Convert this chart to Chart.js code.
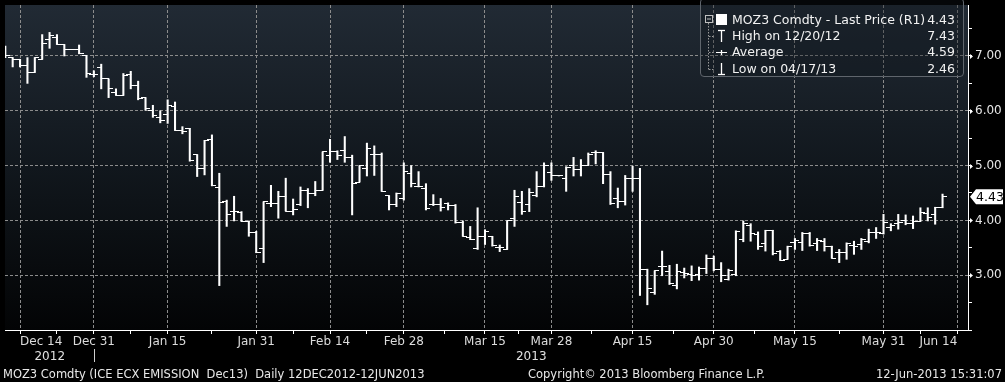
<!DOCTYPE html>
<html><head><meta charset="utf-8">
<script src="https://cdn.jsdelivr.net/npm/chart.js@4.4.1/dist/chart.umd.min.js"></script>
<style>
body{margin:0;background:#000;}
#wrap{position:relative;width:1005px;height:382px;overflow:hidden;background:#000;font-family:'DejaVu Sans',sans-serif;}
#c{position:absolute;left:0;top:0;}
.ft{position:absolute;top:367px;color:#e8e8e8;font-size:11.5px;white-space:pre;line-height:14px;}
#legend{position:absolute;left:700px;top:-2px;width:262px;height:77px;border:1px solid #5f656c;border-radius:4px;background:rgba(14,19,25,0.35);}
.lg{position:absolute;color:#f2f2f2;font-size:12.5px;line-height:14px;white-space:pre;}
.lv{position:absolute;color:#f2f2f2;font-size:12.5px;line-height:14px;right:50px;text-align:right;}
#icons{position:absolute;left:702px;top:0;}
</style></head>
<body>
<div id="wrap">
<canvas id="c" width="1005" height="382"></canvas>
<div id="legend"></div>
<svg id="icons" width="30" height="80">
 <rect x="3.5" y="15.5" width="7" height="7" fill="none" stroke="#bfbfbf" stroke-width="1"/>
 <line x1="5" y1="19" x2="9" y2="19" stroke="#bfbfbf" stroke-width="1"/>
 <rect x="14" y="14" width="11" height="11" fill="#ffffff"/>
 <line x1="6.5" y1="23" x2="6.5" y2="70" stroke="#9a9a9a" stroke-width="1" stroke-dasharray="1.5,1.5"/>
 <line x1="7" y1="36.5" x2="12" y2="36.5" stroke="#9a9a9a" stroke-width="1" stroke-dasharray="1.5,1.5"/>
 <line x1="7" y1="52.5" x2="12" y2="52.5" stroke="#9a9a9a" stroke-width="1" stroke-dasharray="1.5,1.5"/>
 <line x1="7" y1="69.5" x2="12" y2="69.5" stroke="#9a9a9a" stroke-width="1" stroke-dasharray="1.5,1.5"/>
 <line x1="19.5" y1="30" x2="19.5" y2="42" stroke="#fff" stroke-width="1.3"/>
 <line x1="16" y1="30.5" x2="23" y2="30.5" stroke="#fff" stroke-width="1.3"/>
 <line x1="14" y1="52.5" x2="25" y2="52.5" stroke="#fff" stroke-width="1"/>
 <line x1="19.5" y1="50" x2="19.5" y2="55" stroke="#fff" stroke-width="1.3"/>
 <line x1="19.5" y1="63" x2="19.5" y2="75" stroke="#fff" stroke-width="1.3"/>
 <line x1="16" y1="74.5" x2="23" y2="74.5" stroke="#fff" stroke-width="1.3"/>
</svg>
<div class="lg" style="left:732px;top:13px">MOZ3 Comdty - Last Price (R1)</div>
<div class="lv" style="top:13px">4.43</div>
<div class="lg" style="left:732px;top:29px">High on 12/20/12</div>
<div class="lv" style="top:29px">7.43</div>
<div class="lg" style="left:732px;top:45px">Average</div>
<div class="lv" style="top:45px">4.59</div>
<div class="lg" style="left:732px;top:62px">Low on 04/17/13</div>
<div class="lv" style="top:62px">2.46</div>
<div class="ft" style="left:3px">MOZ3 Comdty (ICE ECX EMISSION  Dec13)  Daily 12DEC2012-12JUN2013</div>
<div class="ft" style="left:528px">Copyright© 2013 Bloomberg Finance L.P.</div>
<div class="ft" style="right:3px">12-Jun-2013 15:31:07</div>
</div>
<script>
// ---- data (one entry per trading slot, 12 Dec 2012 .. 12 Jun 2013) ----
const openP  = [7.09,6.97,6.94,6.82,6.70,6.94,7.30,7.34,7.21,7.12,7.12,7.00,6.67,6.79,6.58,6.34,6.28,6.67,6.46,6.24,6.01,5.88,5.94,6.07,5.64,5.68,5.20,4.95,5.47,4.60,4.34,4.17,4.14,3.98,3.78,3.49,4.31,4.31,4.43,4.17,4.29,4.55,4.49,4.55,5.19,5.25,5.27,5.15,4.70,4.95,5.21,5.21,4.45,4.29,4.40,4.85,4.61,4.59,4.29,4.29,4.31,4.28,3.97,3.68,3.48,3.71,3.71,3.50,3.47,4.03,4.33,4.29,4.46,4.61,4.87,4.81,4.76,5.01,4.93,5.01,5.23,5.23,4.83,4.40,4.34,4.76,4.77,3.11,2.69,3.15,3.06,2.82,3.05,3.01,3.01,3.13,3.31,3.11,2.93,3.01,3.65,3.90,3.75,3.58,3.81,3.44,3.29,3.59,3.59,3.76,3.58,3.62,3.52,3.41,3.41,3.55,3.56,3.61,3.78,3.76,3.87,3.94,3.99,3.94,3.98,4.12,4.11,4.24];
const highP  = [7.18,6.97,6.94,6.97,6.97,7.39,7.43,7.39,7.21,7.12,7.20,7.00,6.73,6.85,6.58,6.40,6.68,6.72,6.54,6.24,6.10,6.00,6.20,6.16,5.71,5.68,5.20,5.46,5.56,4.86,4.37,4.44,4.16,3.99,3.80,4.34,4.64,4.53,4.77,4.39,4.61,4.58,4.71,5.25,5.48,5.27,5.53,5.19,5.00,5.41,5.36,5.23,4.45,4.50,5.05,5.00,4.89,4.67,4.47,4.40,4.32,4.29,3.99,3.89,4.23,3.83,3.71,3.55,3.99,4.55,4.53,4.58,4.89,5.05,5.05,4.81,4.98,5.15,5.11,5.23,5.27,5.24,4.89,4.59,4.82,4.99,4.95,3.11,3.08,3.44,3.18,3.20,3.13,3.17,3.15,3.37,3.35,3.23,3.11,3.81,3.99,3.94,3.79,3.82,3.82,3.45,3.53,3.67,3.78,3.78,3.67,3.67,3.53,3.47,3.59,3.62,3.67,3.84,3.87,4.11,3.94,4.11,4.10,4.08,4.23,4.23,4.24,4.48];
const lowP   = [6.97,6.80,6.80,6.50,6.70,6.94,7.14,7.21,7.00,7.12,7.04,6.61,6.62,6.40,6.24,6.28,6.28,6.40,6.20,6.01,5.88,5.78,5.77,5.64,5.58,5.08,4.80,4.83,4.63,2.81,3.89,3.99,3.98,3.71,3.41,3.23,4.25,4.04,4.17,4.10,4.27,4.23,4.45,4.55,5.06,5.11,5.06,4.10,4.70,4.81,4.82,4.53,4.19,4.25,4.37,4.61,4.61,4.19,4.27,4.17,4.19,3.95,3.71,3.65,3.47,3.56,3.53,3.43,3.47,3.89,4.11,4.16,4.43,4.61,4.73,4.81,4.53,4.81,4.81,5.00,5.03,4.67,4.29,4.23,4.28,4.53,2.63,2.46,2.65,2.99,2.83,2.75,2.95,2.90,2.91,3.03,3.08,2.88,2.91,2.99,3.61,3.62,3.47,3.44,3.37,3.27,3.29,3.47,3.45,3.53,3.45,3.44,3.31,3.23,3.29,3.38,3.47,3.59,3.67,3.75,3.81,3.84,3.92,3.85,3.98,3.99,3.93,4.23];
const closeP = [7.00,6.94,6.82,6.70,6.97,7.22,7.38,7.21,7.12,7.12,7.04,6.68,6.67,6.58,6.40,6.28,6.65,6.46,6.22,6.04,5.92,5.83,6.10,5.64,5.62,5.10,4.95,5.46,4.63,4.33,4.10,4.17,3.98,3.78,3.41,4.34,4.31,4.43,4.17,4.19,4.55,4.49,4.55,5.25,5.25,5.19,5.15,4.68,5.00,5.31,5.21,4.53,4.29,4.49,4.89,4.68,4.61,4.22,4.29,4.23,4.27,3.97,3.71,3.65,3.71,3.80,3.55,3.50,3.99,4.43,4.16,4.50,4.62,5.00,4.81,4.81,4.97,4.93,5.01,5.21,5.24,4.83,4.30,4.34,4.76,4.77,3.10,2.75,3.08,3.15,2.85,3.07,3.03,2.99,3.13,3.31,3.11,2.99,3.09,3.79,3.94,3.76,3.53,3.81,3.39,3.27,3.52,3.64,3.76,3.55,3.64,3.53,3.31,3.41,3.58,3.53,3.65,3.78,3.78,3.96,3.90,3.96,3.94,3.98,4.14,4.05,4.23,4.43];
// x-axis tick labels and the trading slot they sit on
const tickLabels = ['Dec 14','Dec 31','Jan 15','Jan 31','Feb 14','Feb 28','Mar 15','Mar 28','Apr 15','Apr 30','May 15','May 31','Jun 14'];
const tickSlots  = [2,12,22,34,44,54,65,74,85,96,107,119,129];
const yearLabels = ['2012','2013'];
const yLabelValues = [3,4,5,6,7];

function tickImg(side){
  const c = document.createElement('canvas'); c.width = 9; c.height = 1;
  const g = c.getContext('2d'); g.fillStyle = '#ffffff';
  if (side === 'left') g.fillRect(0,0,5,1); else g.fillRect(4,0,5,1);
  return c;
}
const idx = closeP.map((_, i) => i);
const minorSlots = tickSlots.slice(1).map((v, i) => (v + tickSlots[i]) / 2);

const bgPlugin = {
  id: 'bg',
  beforeDraw(chart){
    const {ctx, chartArea: a} = chart;
    ctx.save();
    ctx.fillStyle = '#000'; ctx.fillRect(0,0,chart.width,chart.height);
    const g = ctx.createLinearGradient(0,a.top,0,a.bottom);
    g.addColorStop(0,'#212a34'); g.addColorStop(0.5,'#11171d'); g.addColorStop(1,'#030405');
    ctx.fillStyle = g; ctx.fillRect(a.left,a.top,a.right-a.left,a.bottom-a.top);
    ctx.restore();
  }
};
const annoPlugin = {
  id: 'anno',
  afterDraw(chart){
    const {ctx, chartArea: a, scales: {x, y}} = chart;
    ctx.save();
    // year separator + year labels
    const sep = Math.round(x.getPixelForValue(tickSlots[1])) + 0.5;
    ctx.strokeStyle = '#cfcfcf'; ctx.lineWidth = 1;
    ctx.beginPath(); ctx.moveTo(sep, 349); ctx.lineTo(sep, 362); ctx.stroke();
    ctx.fillStyle = '#e0e0e0'; ctx.font = '12px "DejaVu Sans"'; ctx.textAlign = 'center'; ctx.textBaseline = 'middle';
    ctx.fillText(yearLabels[0], (a.left + sep) / 2, 357);
    ctx.fillText(yearLabels[1], (sep + a.right) / 2, 357);
    // little arrow heads on labelled y ticks
    ctx.fillStyle = '#ffffff';
    yLabelValues.forEach(v => {
      const py = Math.round(y.getPixelForValue(v)) + 0.5;
      ctx.beginPath(); ctx.moveTo(a.right + 2, py - 2.5); ctx.lineTo(a.right + 5, py); ctx.lineTo(a.right + 2, py + 2.5); ctx.closePath(); ctx.fill();
    });
    // last price tag
    const last = closeP[closeP.length - 1];
    const py = y.getPixelForValue(last);
    const lx = a.right + 2;
    ctx.fillStyle = '#ffffff';
    ctx.beginPath();
    ctx.moveTo(lx, py); ctx.lineTo(lx + 6, py - 7.5); ctx.lineTo(1003, py - 7.5);
    ctx.lineTo(1003, py + 7.5); ctx.lineTo(lx + 6, py + 7.5); ctx.closePath(); ctx.fill();
    ctx.fillStyle = '#000'; ctx.textAlign = 'left'; ctx.font = '12.5px "DejaVu Sans"';
    ctx.fillText(last.toFixed(2), lx + 6, py + 0.5);
    ctx.restore();
  }
};

Chart.defaults.font.family = '"DejaVu Sans", sans-serif';
new Chart(document.getElementById('c'), {
  type: 'bar',
  data: {
    datasets: [
      { type: 'bar', label: 'High-Low', data: idx.map(i => ({x: i, y: [lowP[i], highP[i]]})),
        backgroundColor: '#ffffff', borderWidth: 0, barThickness: 1.4, order: 2 },
      { type: 'scatter', label: 'Open', data: idx.map(i => ({x: i, y: openP[i]})),
        pointStyle: tickImg('left'), pointRadius: 3, showLine: false, order: 1 },
      { type: 'scatter', label: 'Close', data: idx.map(i => ({x: i, y: closeP[i]})),
        pointStyle: tickImg('right'), pointRadius: 3, showLine: false, order: 1 }
    ]
  },
  options: {
    responsive: false, animation: false, events: [], devicePixelRatio: 1,
    layout: { padding: 0 },
    plugins: { legend: { display: false }, tooltip: { enabled: false } },
    scales: {
      x: {
        type: 'linear', position: 'bottom', min: -0.04, max: 130.45, offset: false,
        afterBuildTicks: s => { s.ticks = tickSlots.concat(minorSlots).sort((a,b)=>a-b).map(v => ({value: v})); },
        afterFit: s => { s.height = 52; s.paddingLeft = 0; s.paddingRight = 0; },
        ticks: { autoSkip: false, maxRotation: 0, minRotation: 0, align: 'inner', padding: 1, color: '#dcdcdc', font: { size: 12 },
          callback: v => { const k = tickSlots.indexOf(v); return k >= 0 ? tickLabels[k] : ''; } },
        grid: { offset: false, color: c => (c.tick && tickSlots.includes(c.tick.value)) ? '#8c8c8c' : 'rgba(0,0,0,0)',
          tickColor: '#ffffff', tickLength: 4, lineWidth: 1 },
        border: { display: true, color: '#ffffff', width: 1, dash: [3,2] }
      },
      y: {
        type: 'linear', position: 'right', min: 2.0, max: 7.93,
        afterBuildTicks: s => { const t = []; for (let k = 4; k <= 15; k++) t.push({value: k / 2}); s.ticks = t; },
        afterFit: s => { s.width = 37; s.paddingTop = 0; s.paddingBottom = 0; },
        ticks: { color: '#e6e6e6', font: { size: 12 }, padding: 3,
          callback: v => yLabelValues.includes(v) ? v.toFixed(2) : '' },
        grid: { color: c => (c.tick && yLabelValues.includes(c.tick.value)) ? '#8c8c8c' : 'rgba(0,0,0,0)',
          tickColor: '#ffffff', tickLength: 4, lineWidth: 1 },
        border: { display: true, color: '#ffffff', width: 1, dash: [3,2] }
      }
    }
  },
  plugins: [bgPlugin, annoPlugin]
});
</script>
</body></html>
